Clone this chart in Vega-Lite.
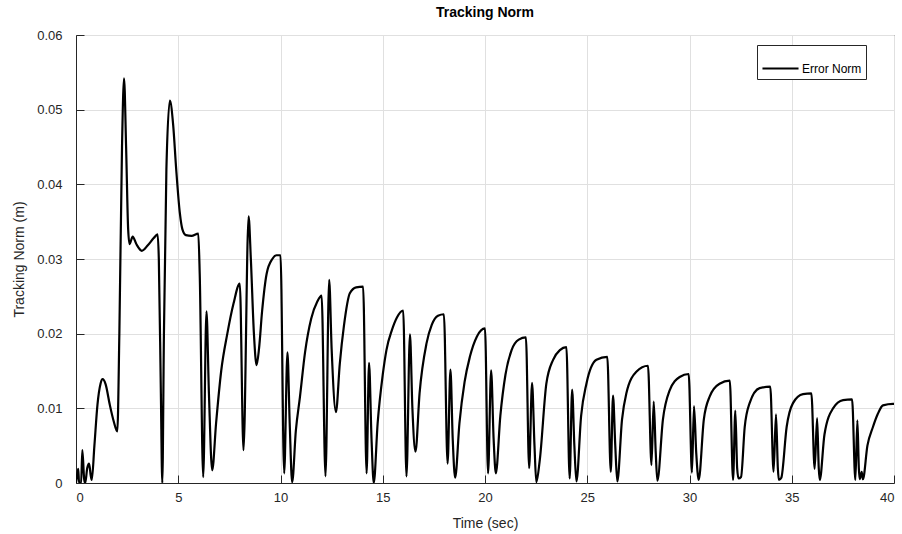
{
  "$schema": "https://vega.github.io/schema/vega-lite/v6.json",
  "width": 818,
  "height": 448,
  "autosize": "none",
  "padding": {"left": 76, "top": 35, "right": 8, "bottom": 51},
  "background": "white",
  "config": {
    "font": "Liberation Sans",
    "view": {"stroke": "#262626", "strokeWidth": 1},
    "axis": {
      "domainColor": "#262626",
      "tickColor": "#262626",
      "labelColor": "#262626",
      "titleColor": "#262626",
      "gridColor": "#e0e0e0",
      "gridWidth": 1,
      "labelFont": "Liberation Sans",
      "titleFont": "Liberation Sans",
      "labelFontSize": 13,
      "titleFontSize": 14,
      "titleFontWeight": "normal"
    },
    "title": {"font": "Liberation Sans", "fontSize": 14, "fontWeight": "bold", "color": "#000000"}
  },
  "title": {"text": "Tracking Norm", "anchor": "middle", "offset": 9},
  "data": {
    "values": [
      {"t": 0, "v": 0, "series": "Error Norm"},
      {"t": 0.08, "v": 0.0015, "series": "Error Norm"},
      {"t": 0.11, "v": 0.0019, "series": "Error Norm"},
      {"t": 0.15, "v": 0.0, "series": "Error Norm"},
      {"t": 0.25, "v": 0.0, "series": "Error Norm"},
      {"t": 0.31, "v": 0.0044, "series": "Error Norm"},
      {"t": 0.40, "v": 0.0005, "series": "Error Norm"},
      {"t": 0.45, "v": 0.0, "series": "Error Norm"},
      {"t": 0.55, "v": 0.002, "series": "Error Norm"},
      {"t": 0.64, "v": 0.0026, "series": "Error Norm"},
      {"t": 0.72, "v": 0.001, "series": "Error Norm"},
      {"t": 0.77, "v": 0.0004, "series": "Error Norm"},
      {"t": 0.9, "v": 0.005, "series": "Error Norm"},
      {"t": 1.05, "v": 0.0105, "series": "Error Norm"},
      {"t": 1.2, "v": 0.0133, "series": "Error Norm"},
      {"t": 1.30, "v": 0.0139, "series": "Error Norm"},
      {"t": 1.45, "v": 0.0132, "series": "Error Norm"},
      {"t": 1.65, "v": 0.0105, "series": "Error Norm"},
      {"t": 1.85, "v": 0.0082, "series": "Error Norm"},
      {"t": 2.02, "v": 0.0069, "series": "Error Norm"},
      {"t": 2.12, "v": 0.02, "series": "Error Norm"},
      {"t": 2.25, "v": 0.045, "series": "Error Norm"},
      {"t": 2.35, "v": 0.0542, "series": "Error Norm"},
      {"t": 2.45, "v": 0.045, "series": "Error Norm"},
      {"t": 2.55, "v": 0.034, "series": "Error Norm"},
      {"t": 2.62, "v": 0.0320, "series": "Error Norm"},
      {"t": 2.77, "v": 0.0330, "series": "Error Norm"},
      {"t": 2.95, "v": 0.0320, "series": "Error Norm"},
      {"t": 3.22, "v": 0.0311, "series": "Error Norm"},
      {"t": 3.5, "v": 0.0318, "series": "Error Norm"},
      {"t": 3.8, "v": 0.0328, "series": "Error Norm"},
      {"t": 3.99, "v": 0.0333, "series": "Error Norm"},
      {"t": 4.05, "v": 0.03, "series": "Error Norm"},
      {"t": 4.15, "v": 0.012, "series": "Error Norm"},
      {"t": 4.22, "v": 0.0, "series": "Error Norm"},
      {"t": 4.30, "v": 0.02, "series": "Error Norm"},
      {"t": 4.42, "v": 0.042, "series": "Error Norm"},
      {"t": 4.59, "v": 0.0512, "series": "Error Norm"},
      {"t": 4.75, "v": 0.048, "series": "Error Norm"},
      {"t": 4.9, "v": 0.042, "series": "Error Norm"},
      {"t": 5.08, "v": 0.0361, "series": "Error Norm"},
      {"t": 5.2, "v": 0.0340, "series": "Error Norm"},
      {"t": 5.37, "v": 0.0332, "series": "Error Norm"},
      {"t": 5.65, "v": 0.0331, "series": "Error Norm"},
      {"t": 5.98, "v": 0.0334, "series": "Error Norm"},
      {"t": 6.05, "v": 0.028, "series": "Error Norm"},
      {"t": 6.22, "v": 0.0008, "series": "Error Norm"},
      {"t": 6.38, "v": 0.0230, "series": "Error Norm"},
      {"t": 6.5, "v": 0.012, "series": "Error Norm"},
      {"t": 6.66, "v": 0.0017, "series": "Error Norm"},
      {"t": 6.85, "v": 0.008, "series": "Error Norm"},
      {"t": 7.1, "v": 0.015, "series": "Error Norm"},
      {"t": 7.4, "v": 0.0200, "series": "Error Norm"},
      {"t": 7.7, "v": 0.0240, "series": "Error Norm"},
      {"t": 8.01, "v": 0.0267, "series": "Error Norm"},
      {"t": 8.19, "v": 0.0044, "series": "Error Norm"},
      {"t": 8.44, "v": 0.0357, "series": "Error Norm"},
      {"t": 8.55, "v": 0.03, "series": "Error Norm"},
      {"t": 8.7, "v": 0.02, "series": "Error Norm"},
      {"t": 8.83, "v": 0.0158, "series": "Error Norm"},
      {"t": 8.95, "v": 0.018, "series": "Error Norm"},
      {"t": 9.1, "v": 0.023, "series": "Error Norm"},
      {"t": 9.32, "v": 0.0280, "series": "Error Norm"},
      {"t": 9.6, "v": 0.0300, "series": "Error Norm"},
      {"t": 9.8, "v": 0.0305, "series": "Error Norm"},
      {"t": 10.0, "v": 0.0305, "series": "Error Norm"},
      {"t": 10.18, "v": 0.0013, "series": "Error Norm"},
      {"t": 10.34, "v": 0.0175, "series": "Error Norm"},
      {"t": 10.45, "v": 0.008, "series": "Error Norm"},
      {"t": 10.57, "v": 0.0001, "series": "Error Norm"},
      {"t": 10.75, "v": 0.007, "series": "Error Norm"},
      {"t": 10.95, "v": 0.0115, "series": "Error Norm"},
      {"t": 11.2, "v": 0.0175, "series": "Error Norm"},
      {"t": 11.5, "v": 0.0220, "series": "Error Norm"},
      {"t": 11.8, "v": 0.0243, "series": "Error Norm"},
      {"t": 12.01, "v": 0.0251, "series": "Error Norm"},
      {"t": 12.20, "v": 0.0009, "series": "Error Norm"},
      {"t": 12.38, "v": 0.0272, "series": "Error Norm"},
      {"t": 12.5, "v": 0.018, "series": "Error Norm"},
      {"t": 12.71, "v": 0.0095, "series": "Error Norm"},
      {"t": 12.9, "v": 0.016, "series": "Error Norm"},
      {"t": 13.1, "v": 0.021, "series": "Error Norm"},
      {"t": 13.39, "v": 0.0254, "series": "Error Norm"},
      {"t": 13.7, "v": 0.0262, "series": "Error Norm"},
      {"t": 14.04, "v": 0.0263, "series": "Error Norm"},
      {"t": 14.21, "v": 0.0013, "series": "Error Norm"},
      {"t": 14.33, "v": 0.0161, "series": "Error Norm"},
      {"t": 14.45, "v": 0.006, "series": "Error Norm"},
      {"t": 14.56, "v": 0.0, "series": "Error Norm"},
      {"t": 14.75, "v": 0.008, "series": "Error Norm"},
      {"t": 15.0, "v": 0.0145, "series": "Error Norm"},
      {"t": 15.18, "v": 0.0178, "series": "Error Norm"},
      {"t": 15.45, "v": 0.0205, "series": "Error Norm"},
      {"t": 15.7, "v": 0.0222, "series": "Error Norm"},
      {"t": 16.0, "v": 0.0231, "series": "Error Norm"},
      {"t": 16.16, "v": 0.0009, "series": "Error Norm"},
      {"t": 16.33, "v": 0.0199, "series": "Error Norm"},
      {"t": 16.45, "v": 0.01, "series": "Error Norm"},
      {"t": 16.60, "v": 0.0042, "series": "Error Norm"},
      {"t": 16.8, "v": 0.012, "series": "Error Norm"},
      {"t": 17.14, "v": 0.0187, "series": "Error Norm"},
      {"t": 17.4, "v": 0.0212, "series": "Error Norm"},
      {"t": 17.7, "v": 0.0224, "series": "Error Norm"},
      {"t": 17.99, "v": 0.0226, "series": "Error Norm"},
      {"t": 18.17, "v": 0.0026, "series": "Error Norm"},
      {"t": 18.31, "v": 0.0152, "series": "Error Norm"},
      {"t": 18.42, "v": 0.006, "series": "Error Norm"},
      {"t": 18.54, "v": 0.0007, "series": "Error Norm"},
      {"t": 18.75, "v": 0.008, "series": "Error Norm"},
      {"t": 19.0, "v": 0.0135, "series": "Error Norm"},
      {"t": 19.26, "v": 0.0169, "series": "Error Norm"},
      {"t": 19.6, "v": 0.0196, "series": "Error Norm"},
      {"t": 20.0, "v": 0.0207, "series": "Error Norm"},
      {"t": 20.15, "v": 0.0013, "series": "Error Norm"},
      {"t": 20.30, "v": 0.0151, "series": "Error Norm"},
      {"t": 20.42, "v": 0.006, "series": "Error Norm"},
      {"t": 20.53, "v": 0.0013, "series": "Error Norm"},
      {"t": 20.75, "v": 0.009, "series": "Error Norm"},
      {"t": 21.0, "v": 0.0145, "series": "Error Norm"},
      {"t": 21.3, "v": 0.0178, "series": "Error Norm"},
      {"t": 21.65, "v": 0.0192, "series": "Error Norm"},
      {"t": 22.0, "v": 0.0195, "series": "Error Norm"},
      {"t": 22.16, "v": 0.0020, "series": "Error Norm"},
      {"t": 22.30, "v": 0.0134, "series": "Error Norm"},
      {"t": 22.42, "v": 0.005, "series": "Error Norm"},
      {"t": 22.51, "v": 0.0001, "series": "Error Norm"},
      {"t": 22.68, "v": 0.0031, "series": "Error Norm"},
      {"t": 23.0, "v": 0.0133, "series": "Error Norm"},
      {"t": 23.33, "v": 0.0165, "series": "Error Norm"},
      {"t": 23.66, "v": 0.0178, "series": "Error Norm"},
      {"t": 23.98, "v": 0.0182, "series": "Error Norm"},
      {"t": 24.14, "v": 0.0006, "series": "Error Norm"},
      {"t": 24.26, "v": 0.0125, "series": "Error Norm"},
      {"t": 24.37, "v": 0.005, "series": "Error Norm"},
      {"t": 24.47, "v": 0.0002, "series": "Error Norm"},
      {"t": 24.7, "v": 0.009, "series": "Error Norm"},
      {"t": 24.96, "v": 0.0133, "series": "Error Norm"},
      {"t": 25.45, "v": 0.0165, "series": "Error Norm"},
      {"t": 25.98, "v": 0.0169, "series": "Error Norm"},
      {"t": 26.15, "v": 0.0015, "series": "Error Norm"},
      {"t": 26.26, "v": 0.0117, "series": "Error Norm"},
      {"t": 26.37, "v": 0.005, "series": "Error Norm"},
      {"t": 26.47, "v": 0.0002, "series": "Error Norm"},
      {"t": 26.7, "v": 0.0085, "series": "Error Norm"},
      {"t": 26.91, "v": 0.0120, "series": "Error Norm"},
      {"t": 27.40, "v": 0.0149, "series": "Error Norm"},
      {"t": 27.97, "v": 0.0157, "series": "Error Norm"},
      {"t": 28.14, "v": 0.0024, "series": "Error Norm"},
      {"t": 28.25, "v": 0.0109, "series": "Error Norm"},
      {"t": 28.35, "v": 0.004, "series": "Error Norm"},
      {"t": 28.43, "v": 0.0003, "series": "Error Norm"},
      {"t": 28.7, "v": 0.0085, "series": "Error Norm"},
      {"t": 29.03, "v": 0.0124, "series": "Error Norm"},
      {"t": 29.52, "v": 0.0142, "series": "Error Norm"},
      {"t": 29.96, "v": 0.0146, "series": "Error Norm"},
      {"t": 30.12, "v": 0.0014, "series": "Error Norm"},
      {"t": 30.22, "v": 0.0103, "series": "Error Norm"},
      {"t": 30.33, "v": 0.004, "series": "Error Norm"},
      {"t": 30.45, "v": 0.0004, "series": "Error Norm"},
      {"t": 30.7, "v": 0.0085, "series": "Error Norm"},
      {"t": 30.99, "v": 0.0116, "series": "Error Norm"},
      {"t": 31.47, "v": 0.0133, "series": "Error Norm"},
      {"t": 31.97, "v": 0.0137, "series": "Error Norm"},
      {"t": 32.13, "v": 0.0004, "series": "Error Norm"},
      {"t": 32.24, "v": 0.0097, "series": "Error Norm"},
      {"t": 32.33, "v": 0.002, "series": "Error Norm"},
      {"t": 32.40, "v": 0.0006, "series": "Error Norm"},
      {"t": 32.52, "v": 0.0008, "series": "Error Norm"},
      {"t": 32.7, "v": 0.0075, "series": "Error Norm"},
      {"t": 32.94, "v": 0.0107, "series": "Error Norm"},
      {"t": 33.43, "v": 0.0127, "series": "Error Norm"},
      {"t": 33.95, "v": 0.0129, "series": "Error Norm"},
      {"t": 34.11, "v": 0.0015, "series": "Error Norm"},
      {"t": 34.23, "v": 0.0092, "series": "Error Norm"},
      {"t": 34.32, "v": 0.002, "series": "Error Norm"},
      {"t": 34.37, "v": 0.0004, "series": "Error Norm"},
      {"t": 34.49, "v": 0.0007, "series": "Error Norm"},
      {"t": 34.75, "v": 0.0075, "series": "Error Norm"},
      {"t": 35.06, "v": 0.0107, "series": "Error Norm"},
      {"t": 35.55, "v": 0.0119, "series": "Error Norm"},
      {"t": 35.96, "v": 0.0120, "series": "Error Norm"},
      {"t": 36.12, "v": 0.0019, "series": "Error Norm"},
      {"t": 36.24, "v": 0.0087, "series": "Error Norm"},
      {"t": 36.32, "v": 0.002, "series": "Error Norm"},
      {"t": 36.37, "v": 0.0004, "series": "Error Norm"},
      {"t": 36.6, "v": 0.0065, "series": "Error Norm"},
      {"t": 37.02, "v": 0.0100, "series": "Error Norm"},
      {"t": 37.51, "v": 0.0111, "series": "Error Norm"},
      {"t": 37.95, "v": 0.0112, "series": "Error Norm"},
      {"t": 38.11, "v": 0.0004, "series": "Error Norm"},
      {"t": 38.21, "v": 0.0084, "series": "Error Norm"},
      {"t": 38.28, "v": 0.002, "series": "Error Norm"},
      {"t": 38.32, "v": 0.0005, "series": "Error Norm"},
      {"t": 38.42, "v": 0.0015, "series": "Error Norm"},
      {"t": 38.48, "v": 0.0005, "series": "Error Norm"},
      {"t": 38.7, "v": 0.005, "series": "Error Norm"},
      {"t": 38.97, "v": 0.0075, "series": "Error Norm"},
      {"t": 39.2, "v": 0.0092, "series": "Error Norm"},
      {"t": 39.46, "v": 0.0104, "series": "Error Norm"},
      {"t": 39.95, "v": 0.0106, "series": "Error Norm"},
      {"t": 40.0, "v": 0.0106, "series": "Error Norm"}
    ]
  },
  "layer": [
    {
      "mark": {"type": "line", "interpolate": "monotone", "strokeWidth": 2.2, "clip": true},
      "encoding": {
        "x": {
          "field": "t", "type": "quantitative",
          "scale": {"domain": [0, 40], "nice": false, "zero": false},
          "axis": {
            "values": [0, 5, 10, 15, 20, 25, 30, 35, 40],
            "title": "Time (sec)",
            "grid": true,
            "tickSize": -8,
            "labelPadding": 16,
            "titlePadding": 12,
            "domain": true
          }
        },
        "y": {
          "field": "v", "type": "quantitative",
          "scale": {"domain": [0, 0.06], "nice": false},
          "axis": {
            "values": [0, 0.01, 0.02, 0.03, 0.04, 0.05, 0.06],
            "format": ".2~f",
            "title": "Tracking Norm (m)",
            "grid": true,
            "tickSize": -8,
            "labelPadding": 22,
            "titlePadding": 10
          }
        },
        "color": {
          "field": "series", "type": "nominal",
          "scale": {"domain": ["Error Norm"], "range": ["#000000"]},
          "legend": {
            "orient": "none",
            "legendX": 681,
            "legendY": 10,
            "title": null,
            "fillColor": "white",
            "strokeColor": "#262626",
            "padding": 4,
            "symbolType": "stroke",
            "symbolStrokeWidth": 2,
            "symbolSize": 1300,
            "labelFontSize": 12,
            "labelFont": "Liberation Sans",
            "labelColor": "#000000",
            "labelOffset": 2,
            "labelExpr": "pad(datum.label, 17)"
          }
        }
      }
    }
  ]
}
